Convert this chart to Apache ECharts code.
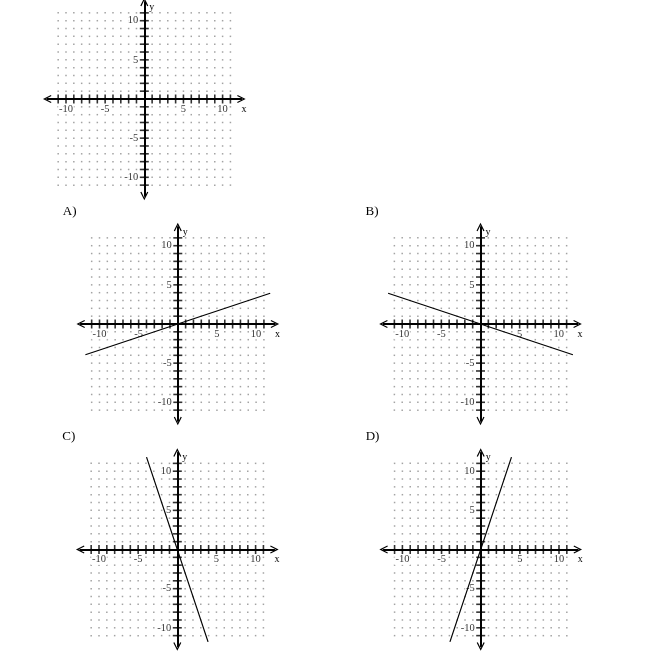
<!DOCTYPE html>
<html>
<head>
<meta charset="utf-8">
<script src="https://cdn.jsdelivr.net/npm/echarts@6/dist/echarts.min.js"></script>
<style>
    html, body { margin: 0; padding: 0; background: #fff; }
    #main { width: 650px; height: 652px; }
</style>
</head>
<body>
<div id="main"></div>
<script>
// 数据
var panelNames = ['', 'A)', 'B)', 'C)', 'D)'];
var gridValues = [-11, -10, -9, -8, -7, -6, -5, -4, -3, -2, -1, 0, 1, 2, 3, 4, 5, 6, 7, 8, 9, 10, 11];
var tickValues = [-11, -10, -9, -8, -7, -6, -5, -4, -3, -2, -1, 1, 2, 3, 4, 5, 6, 7, 8, 9, 10, 11];
var labelValues = [-10, -5, 5, 10];
var lineA = [[-11.8, -3.93], [11.8, 3.93]];
var lineB = [[-11.8, 3.93], [11.8, -3.93]];
var lineC = [[-3.93, 11.8], [3.93, -11.8]];
var lineD = [[-3.93, -11.8], [3.93, 11.8]];
var panelLines = [null, lineA, lineB, lineC, lineD];

// 布局（像素）
var origins = [[144.3, 99], [177.8, 324], [480.5, 324], [177.3, 549.5], [480.7, 549.5]];
var unit = 7.83;
var range = 12.4;
var font = 'Liberation Serif';
var chevron = 'path://M0,10 L5,0 L10,10 L8.6,10.6 L5,3.2 L1.4,10.6 Z';

var dom = document.getElementById('main');
var myChart = echarts.init(dom, null, {renderer: 'canvas'});

var dots = [];
gridValues.forEach(function (x) {
    gridValues.forEach(function (y) {
        dots.push([x, y]);
    });
});
var xTicks = tickValues.map(function (v) { return [v, 0]; });
var yTicks = tickValues.map(function (v) { return [0, v]; });
var xLabels = labelValues.map(function (v) { return [v, 0]; });
var yLabels = labelValues.map(function (v) { return [0, v]; });

var labelText = {
    fontFamily: font, fontSize: 10.5, color: '#000',
    backgroundColor: '#fff', padding: [0, 1]
};

var grids = [], xAxes = [], yAxes = [], titles = [], series = [];
origins.forEach(function (o, i) {
    var half = range * unit;
    grids.push({left: o[0] - half, top: o[1] - half, width: 2 * half, height: 2 * half});
    xAxes.push({
        gridIndex: i, type: 'value', min: -range, max: range, z: 3,
        name: 'x', nameLocation: 'end', nameGap: 0,
        nameTextStyle: {fontFamily: font, fontSize: 10, color: '#000', verticalAlign: 'top', padding: [5, 0, 0, 0]},
        axisLine: {show: true, onZero: true, symbol: [chevron, chevron], symbolSize: [8, 9], lineStyle: {color: '#000', width: 2}},
        axisTick: {show: false},
        splitLine: {show: false},
        axisLabel: {show: false}
    });
    yAxes.push({
        gridIndex: i, type: 'value', min: -range, max: range, z: 3,
        name: 'y', nameLocation: 'end', nameGap: -10,
        nameTextStyle: {fontFamily: font, fontSize: 10, color: '#000', align: 'left', padding: [0, 0, 0, 5]},
        axisLine: {show: true, onZero: true, symbol: [chevron, chevron], symbolSize: [8, 9], lineStyle: {color: '#000', width: 2}},
        axisTick: {show: false},
        splitLine: {show: false},
        axisLabel: {show: false}
    });
    if (panelNames[i]) {
        titles.push({
            text: panelNames[i], left: o[0] - 115, top: o[1] - 119, padding: 0,
            textStyle: {fontFamily: font, fontSize: 13, fontWeight: 'normal', color: '#000'}
        });
    }
    // 网格点
    series.push({
        type: 'scatter', xAxisIndex: i, yAxisIndex: i, z: 1, silent: true,
        symbol: 'rect', symbolSize: 1.5, itemStyle: {color: '#8c8c8c'},
        data: dots
    });
    // 刻度标签
    series.push({
        type: 'scatter', xAxisIndex: i, yAxisIndex: i, z: 2, silent: true,
        symbolSize: 0,
        label: Object.assign({
            show: true, position: 'bottom', distance: 4.5,
            formatter: function (p) { return p.value[0]; }
        }, labelText),
        data: xLabels
    });
    series.push({
        type: 'scatter', xAxisIndex: i, yAxisIndex: i, z: 2, silent: true,
        symbolSize: 0,
        label: Object.assign({
            show: true, position: 'left', distance: 5,
            formatter: function (p) { return p.value[1]; }
        }, labelText),
        data: yLabels
    });
    // 刻度
    series.push({
        type: 'scatter', xAxisIndex: i, yAxisIndex: i, z: 4, silent: true,
        symbol: 'rect', symbolSize: [1.6, 9], itemStyle: {color: '#000'},
        data: xTicks
    });
    series.push({
        type: 'scatter', xAxisIndex: i, yAxisIndex: i, z: 4, silent: true,
        symbol: 'rect', symbolSize: [9, 1.6], itemStyle: {color: '#000'},
        data: yTicks
    });
    if (panelLines[i]) {
        series.push({
            type: 'line', xAxisIndex: i, yAxisIndex: i, z: 6, silent: true,
            showSymbol: false, symbol: 'none',
            lineStyle: {color: '#000', width: 1.2},
            data: panelLines[i]
        });
    }
});

var option = {
    backgroundColor: '#fff',
    animation: false,
    title: titles,
    grid: grids,
    xAxis: xAxes,
    yAxis: yAxes,
    series: series
};
myChart.setOption(option);
</script>
</body>
</html>
